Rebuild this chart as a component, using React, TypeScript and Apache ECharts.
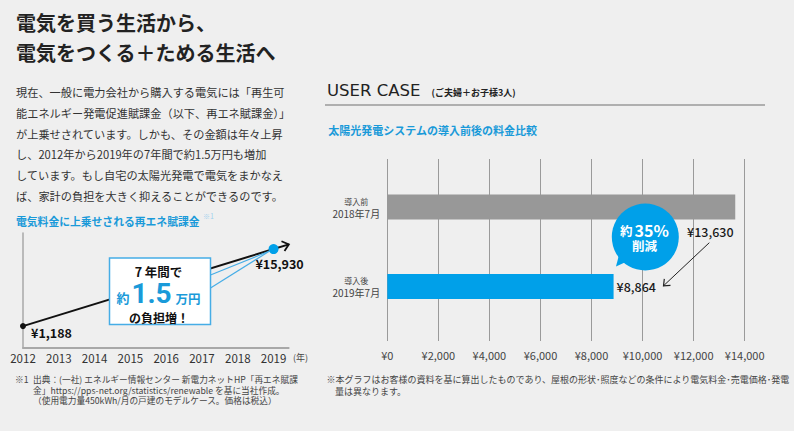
import React, { useEffect, useRef } from 'react';
import * as echarts from 'echarts';

const FONT = '"Noto Sans CJK JP", "Noto Sans", sans-serif';

// ---- data ----
const years = [2012, 2019];
const levyValues = [1188, 15930];
const yearUnit = '(年)';

const caseCategories = ['導入前\n2018年7月', '導入後\n2019年7月'];
const caseValues = [13630, 8864];

const titleLines = ['電気を買う生活から、', '電気をつくる＋ためる生活へ'];
const bodyLines = [
  '現在、一般に電力会社から購入する電気には「再生可',
  '能エネルギー発電促進賦課金（以下、再エネ賦課金）」',
  'が上乗せされています。しかも、その金額は年々上昇',
  'し、2012年から2019年の7年間で約1.5万円も増加',
  'しています。もし自宅の太陽光発電で電気をまかなえ',
  'ば、家計の負担を大きく抑えることができるのです。',
];
const leftChartTitle = '電気料金に上乗せされる再エネ賦課金';
const leftNoteMark = '※1';
const leftNoteLines = [
  '出典：(一社) エネルギー情報センター 新電力ネットHP「再エネ賦課',
  '金」https://pps-net.org/statistics/renewable を基に当社作成。',
  '（使用電力量450kWh/月の戸建のモデルケース。価格は税込）',
];
const calloutLines = ['7 年間で', '約', '1.5', '万円', 'の負担増！'];
const rightHeader = 'USER CASE';
const rightHeaderSub = '(ご夫婦＋お子様3人)';
const rightChartTitle = '太陽光発電システムの導入前後の料金比較';
const bubbleLines = ['約', '35%', '削減'];
const rightNoteLines = [
  '※本グラフはお客様の資料を基に算出したものであり、屋根の形状･照度などの条件により電気料金･売電価格･発電',
  '量は異なります。',
];

const BLUE = '#00a0e9';
const TEXT_BLUE = '#1a9ad9';

const yen = (v: number) => '¥' + Math.round(v).toLocaleString('en-US');

type TOpt = { fill?: string; size?: number; weight?: any; family?: string; align?: string; rich?: any; z?: number; lineHeight?: number };
const T = (text: string, x: number, y: number, o: TOpt = {}) => ({
  type: 'text',
  x,
  y,
  z: o.z ?? 10,
  silent: true,
  style: {
    text,
    fill: o.fill ?? '#333',
    fontSize: o.size ?? 12,
    fontWeight: o.weight ?? 'normal',
    fontFamily: o.family ?? FONT,
    align: o.align ?? 'left',
    textAlign: o.align ?? 'left',
    verticalAlign: 'middle',
    textVerticalAlign: 'middle',
    lineHeight: o.lineHeight,
    rich: o.rich,
  },
});

const rot = (v: number[], a: number) => [
  v[0] * Math.cos(a) - v[1] * Math.sin(a),
  v[0] * Math.sin(a) + v[1] * Math.cos(a),
];
const arrowHead = (tip: number[], dir: number[], len: number, ang: number) => {
  const back = [-dir[0], -dir[1]];
  const a1 = rot(back, ang);
  const a2 = rot(back, -ang);
  return [
    [tip[0] + a1[0] * len, tip[1] + a1[1] * len],
    [tip[0], tip[1]],
    [tip[0] + a2[0] * len, tip[1] + a2[1] * len],
  ];
};

export default function App() {
  const ref = useRef<HTMLDivElement>(null);
  useEffect(() => {
    if (!ref.current) return;
    const chart = echarts.init(ref.current, undefined, { renderer: 'svg' });
    const option: any = {
      animation: false,
      backgroundColor: '#efefef',
      textStyle: { fontFamily: FONT },
      grid: [
        { left: 23, top: 233, width: 265.6, height: 115 },
        { left: 387.3, top: 167.25, width: 357.4, height: 159 },
        { left: 387.3, top: 159, width: 357.4, height: 182 },
      ],
      xAxis: [
        {
          gridIndex: 0,
          type: 'value',
          min: 2012,
          max: 2019.42,
          interval: 1,
          axisLine: { show: true, onZero: false, lineStyle: { color: '#a8a8a8', width: 2 } },
          axisTick: { show: false },
          splitLine: { show: false },
          axisLabel: {
            margin: 4,
            fontSize: 11.5,
            color: '#333',
            fontFamily: FONT,
            showMaxLabel: false,
            formatter: (v: number) => (Number.isInteger(v) ? String(v) : ''),
          },
        },
        { gridIndex: 1, type: 'value', min: 0, max: 14000, show: false },
        {
          gridIndex: 2,
          type: 'value',
          min: 0,
          max: 14000,
          interval: 2000,
          axisLine: { show: false },
          axisTick: { show: false },
          splitLine: { show: true, lineStyle: { color: '#9a9a9a', width: 1 } },
          axisLabel: { margin: 8, fontSize: 11, color: '#444', fontFamily: FONT, formatter: (v: number) => yen(v) },
        },
      ],
      yAxis: [
        {
          gridIndex: 0,
          type: 'value',
          min: -3000,
          max: 19000,
          axisLine: { show: true, onZero: false, lineStyle: { color: '#a8a8a8', width: 1.5 } },
          axisTick: { show: false },
          axisLabel: { show: false },
          splitLine: { show: false },
        },
        {
          gridIndex: 1,
          type: 'category',
          inverse: true,
          data: caseCategories,
          axisLine: { show: false },
          axisTick: { show: false },
          axisLabel: {
            align: 'center',
            margin: 31,
            formatter: (v: string) => {
              const [a, b] = v.split('\n');
              return `{a|${a}}\n{b|${b}}`;
            },
            rich: {
              a: { fontSize: 8, color: '#444', fontFamily: FONT, lineHeight: 12, align: 'center' },
              b: { fontSize: 10, color: '#444', fontFamily: FONT, lineHeight: 12, align: 'center' },
            },
          },
        },
        { gridIndex: 2, type: 'value', show: false },
      ],
      series: [
        {
          type: 'line',
          xAxisIndex: 0,
          yAxisIndex: 0,
          symbol: 'circle',
          showSymbol: true,
          z: 3,
          lineStyle: { color: '#111', width: 2 },
          data: years.map((y, i) => ({
            value: [y, levyValues[i]],
            symbolSize: i === 0 ? 6 : 10,
            itemStyle: { color: i === 0 ? '#111' : BLUE },
            label:
              i === 0
                ? { show: true, position: 'right', distance: 5, offset: [0, 6] }
                : { show: true, position: 'bottom', distance: 3, offset: [6, 0] },
          })),
          label: {
            formatter: (p: any) => yen(p.value[1]),
            fontSize: 12.5,
            fontWeight: 'bold',
            color: '#111',
            fontFamily: FONT,
          },
        },
        {
          type: 'bar',
          xAxisIndex: 1,
          yAxisIndex: 1,
          barWidth: 25,
          z: 3,
          data: caseValues.map((v, i) => ({
            value: v,
            itemStyle: { color: i === 0 ? '#989898' : BLUE },
            label:
              i === 0
                ? { show: true, position: [323, 37], align: 'center', verticalAlign: 'middle' }
                : { show: true, position: 'right', distance: 3 },
          })),
          label: {
            formatter: (p: any) => yen(p.value),
            fontSize: 12.5,
            fontWeight: 500,
            color: '#1a1a1a',
            fontFamily: FONT,
          },
        },
      ],
    };
    chart.setOption(option);

    // pixel positions from the chart's own scales
    const p1 = chart.convertToPixel({ xAxisIndex: 0, yAxisIndex: 0 }, [years[0], levyValues[0]]) as number[];
    const p2 = chart.convertToPixel({ xAxisIndex: 0, yAxisIndex: 0 }, [years[1], levyValues[1]]) as number[];
    const dx = p2[0] - p1[0];
    const dy = p2[1] - p1[1];
    const dl = Math.hypot(dx, dy);
    const dir = [dx / dl, dy / dl];
    const end = [p2[0] + dir[0] * 16, p2[1] + dir[1] * 16];

    const raStart = [709.3, 242.7];
    const raEnd = [663.5, 285.8];
    const rl = Math.hypot(raEnd[0] - raStart[0], raEnd[1] - raStart[1]);
    const rdir = [(raEnd[0] - raStart[0]) / rl, (raEnd[1] - raStart[1]) / rl];

    const bubble = { cx: 645.3, cy: 237, r: 33.5 };
    const tailTip = [p2[0] - 4, p2[1] + 2];

    const graphic: any[] = [
      // title
      ...titleLines.map((t, i) => T(t, 16, 22.5 + i * 29.5, { size: 20, weight: 'bold', fill: '#222' })),
      // body
      ...bodyLines.map((t, i) => T(t, 16, 91.7 + i * 20.9, { size: 11.2, fill: '#333' })),
      // left chart title
      T(leftChartTitle, 16, 220.7, { size: 10.8, weight: 'bold', fill: TEXT_BLUE }),
      T(leftNoteMark, 203, 216, { size: 7, fill: '#9fd0ee' }),
      T(yearUnit, 300.5, 357, { size: 9, fill: '#444', align: 'center' }),
      // arrow continuation
      {
        type: 'line',
        z: 1,
        silent: true,
        shape: { x1: p2[0], y1: p2[1], x2: end[0], y2: end[1] },
        style: { stroke: '#111', lineWidth: 2 },
      },
      {
        type: 'polyline',
        z: 1,
        silent: true,
        shape: { points: arrowHead(end, dir, 8, (40 * Math.PI) / 180) },
        style: { stroke: '#111', lineWidth: 1.8, fill: null },
      },
      // callout box
      {
        type: 'rect',
        z: 9,
        silent: true,
        shape: { x: 109.5, y: 258, width: 101, height: 66.5 },
        style: { fill: '#fff', stroke: '#46ade6', lineWidth: 1.5 },
      },
      {
        type: 'line',
        z: 9,
        silent: true,
        shape: { x1: 210.5, y1: 275, x2: tailTip[0], y2: tailTip[1] },
        style: { stroke: '#46ade6', lineWidth: 1.2 },
      },
      {
        type: 'line',
        z: 9,
        silent: true,
        shape: { x1: 210.5, y1: 288, x2: tailTip[0], y2: tailTip[1] },
        style: { stroke: '#46ade6', lineWidth: 1.2 },
      },
      T(calloutLines[0], 158.5, 271.7, { size: 12.5, weight: 'bold', fill: '#111', align: 'center' }),
      T(calloutLines[1], 123, 297, { size: 13, weight: 'bold', fill: TEXT_BLUE, align: 'center' }),
      T(calloutLines[2], 151.5, 293.5, { size: 28, weight: 'bold', fill: TEXT_BLUE, align: 'center', family: 'Roboto, "Noto Sans", sans-serif' }),
      T(calloutLines[3], 188, 298, { size: 12.5, weight: 'bold', fill: TEXT_BLUE, align: 'center' }),
      T(calloutLines[4], 159, 317.5, { size: 12, weight: 'bold', fill: '#111', align: 'center' }),
      // left footnote
      T(leftNoteMark, 15, 379.3, { size: 8.7, fill: '#444' }),
      T(leftNoteLines.join('\n'), 33, 390, { size: 8.7, fill: '#444', lineHeight: 10.7 }),
      // right header
      T(rightHeader, 327, 90.7, { size: 16.5, family: '"DejaVu Sans", sans-serif', fill: '#222' }),
      T(rightHeaderSub, 431.5, 92.7, { size: 9, weight: 'bold', fill: '#222' }),
      {
        type: 'line',
        silent: true,
        shape: { x1: 325, y1: 105, x2: 765, y2: 105 },
        style: { stroke: '#9a9a9a', lineWidth: 1.5 },
      },
      T(rightChartTitle, 328.3, 130, { size: 11, weight: 'bold', fill: TEXT_BLUE }),
      // bubble
      {
        type: 'circle',
        z: 9,
        silent: true,
        shape: { cx: bubble.cx, cy: bubble.cy, r: bubble.r },
        style: { fill: BLUE },
      },
      {
        type: 'polygon',
        z: 9,
        silent: true,
        shape: { points: [[628, 261], [616, 266.5], [619.5, 253]] },
        style: { fill: BLUE },
      },
      T(`{a|${bubbleLines[0]}}{b|${bubbleLines[1]}}\n{c|${bubbleLines[2]}}`, 644.5, 237.5, {
        align: 'center',
        fill: '#fff',
        rich: {
          a: { fontSize: 12.5, fontWeight: 'bold', fill: '#fff', color: '#fff', fontFamily: FONT, lineHeight: 16 },
          b: { fontSize: 16, fontWeight: 'bold', fill: '#fff', color: '#fff', fontFamily: FONT, lineHeight: 16, padding: [0, 0, 0, 2] },
          c: { fontSize: 12.5, fontWeight: 'bold', fill: '#fff', color: '#fff', fontFamily: FONT, lineHeight: 15, align: 'center' },
        },
      }),
      // reduction arrow
      {
        type: 'line',
        z: 9,
        silent: true,
        shape: { x1: raStart[0], y1: raStart[1], x2: raEnd[0], y2: raEnd[1] },
        style: { stroke: '#222', lineWidth: 1 },
      },
      {
        type: 'polyline',
        z: 9,
        silent: true,
        shape: { points: arrowHead(raEnd, rdir, 7, (40 * Math.PI) / 180) },
        style: { stroke: '#222', lineWidth: 1.2, fill: null },
      },
      // right footnote
      T(rightNoteLines[0], 326.5, 379, { size: 9, fill: '#444' }),
      T(rightNoteLines[1], 335, 391.7, { size: 9, fill: '#444' }),
    ];
    chart.setOption({ graphic });

    return () => chart.dispose();
  }, []);
  return <div ref={ref} style={{ position: 'fixed', left: 0, top: 0, width: 794, height: 431 }} />;
}
